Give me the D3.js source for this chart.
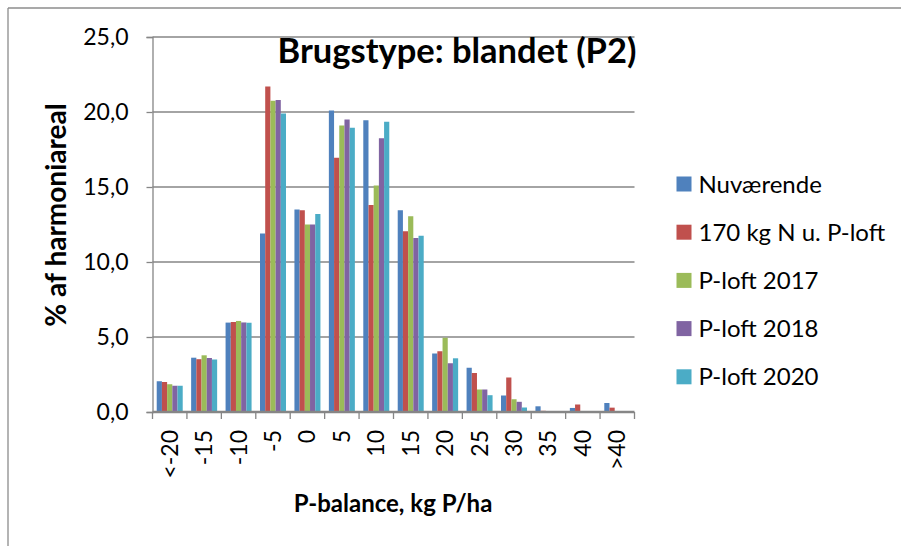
<!DOCTYPE html>
<html>
<head>
<meta charset="utf-8">
<script src="https://cdn.jsdelivr.net/npm/d3@7"></script>
<style>
  body { margin: 0; background: #fff; }
  svg text { font-family: Lato, "Open Sans", sans-serif; fill: #000; }
</style>
</head>
<body>
<div id="chart"></div>
<script>
var categories = ["<-20", "-15", "-10", "-5", "0", "5", "10", "15", "20", "25", "30", "35", "40", ">40"];
var seriesNames = ["Nuværende", "170 kg N u. P-loft", "P-loft 2017", "P-loft 2018", "P-loft 2020"];
var seriesColors = ["#4F81BD", "#C0504D", "#9BBB59", "#8064A2", "#4BACC6"];

var nuvaerende = [2.05, 3.62, 5.96, 11.9, 13.5, 20.1, 19.45, 13.45, 3.9, 2.95, 1.1, 0.38, 0.27, 0.6];
var n170 = [2.0, 3.52, 6.0, 21.7, 13.45, 16.95, 13.8, 12.05, 4.05, 2.6, 2.3, 0.08, 0.5, 0.29];
var ploft2017 = [1.85, 3.78, 6.07, 20.75, 12.5, 19.1, 15.1, 13.05, 4.95, 1.5, 0.85, 0.05, 0, 0];
var ploft2018 = [1.75, 3.6, 5.97, 20.8, 12.5, 19.5, 18.25, 11.6, 3.25, 1.5, 0.68, 0.05, 0, 0];
var ploft2020 = [1.75, 3.5, 5.95, 19.9, 13.2, 18.95, 19.35, 11.75, 3.58, 1.12, 0.3, 0.05, 0, 0];

var yTicks = [0, 5, 10, 15, 20, 25];

var allSeries = [nuvaerende, n170, ploft2017, ploft2018, ploft2020];

var width = 901, height = 546;
var margin = {left: 152.5, right: 266.5, top: 37, bottom: 134};

var svg = d3.select("#chart").append("svg")
    .attr("width", width)
    .attr("height", height);

// chart border (only top/left visible in the crop)
svg.append("line").attr("x1", 8).attr("y1", 8).attr("x2", width).attr("y2", 8)
    .attr("stroke", "#8c8c8c").attr("stroke-width", 1.3);
svg.append("line").attr("x1", 8).attr("y1", 8).attr("x2", 8).attr("y2", height)
    .attr("stroke", "#8c8c8c").attr("stroke-width", 1.3);

var x = d3.scaleBand()
    .domain(categories)
    .range([margin.left, width - margin.right])
    .paddingInner(0.245)
    .paddingOuter(0.1225);

var xs = d3.scaleBand()
    .domain(d3.range(seriesNames.length))
    .range([0, x.bandwidth()]);

var y = d3.scaleLinear()
    .domain([0, 25])
    .range([height - margin.bottom, margin.top]);

var x0 = margin.left, x1 = width - margin.right;
var step = (x1 - x0) / categories.length;

// gridlines
svg.append("g").selectAll("line")
    .data(yTicks.slice(1))
    .enter().append("line")
    .attr("x1", x0).attr("x2", x1)
    .attr("y1", function(d) { return y(d); })
    .attr("y2", function(d) { return y(d); })
    .attr("stroke", "#868686")
    .attr("stroke-width", 1.3);

// bars
var groups = svg.append("g").selectAll("g")
    .data(categories)
    .enter().append("g")
    .attr("transform", function(d) { return "translate(" + x(d) + ",0)"; });

groups.selectAll("rect")
    .data(function(d, i) { return allSeries.map(function(s, j) { return {v: s[i], j: j}; }); })
    .enter().append("rect")
    .attr("x", function(d) { return xs(d.j); })
    .attr("width", xs.bandwidth())
    .attr("y", function(d) { return y(d.v); })
    .attr("height", function(d) { return y(0) - y(d.v); })
    .attr("fill", function(d) { return seriesColors[d.j]; });

// y axis
var yAxis = svg.append("g")
    .attr("transform", "translate(" + x0 + ",0)")
    .call(d3.axisLeft(y).tickValues(yTicks).tickSize(6).tickPadding(18)
        .tickFormat(function(d) { return d3.format(".1f")(d).replace(".", ","); }));
yAxis.select(".domain").attr("stroke", "#868686").attr("stroke-width", 1.3);
yAxis.selectAll(".tick line").attr("stroke", "#868686").attr("stroke-width", 1.3);
yAxis.selectAll("text").style("font-size", "23px").attr("font-family", "Lato");

// x axis
var xg = svg.append("g").attr("transform", "translate(0," + y(0) + ")");
xg.append("line").attr("x1", x0).attr("x2", x1).attr("y1", 0).attr("y2", 0)
    .attr("stroke", "#868686").attr("stroke-width", 2.5);
xg.selectAll(".tk")
    .data(d3.range(categories.length + 1))
    .enter().append("line")
    .attr("x1", function(i) { return x0 + i * step; })
    .attr("x2", function(i) { return x0 + i * step; })
    .attr("y1", 0).attr("y2", 7)
    .attr("stroke", "#868686").attr("stroke-width", 1.3);
xg.selectAll(".lbl")
    .data(categories)
    .enter().append("text")
    .attr("transform", function(d) {
        return "translate(" + (x(d) + x.bandwidth() / 2 + 8) + ",18) rotate(-90)";
    })
    .attr("text-anchor", "end")
    .style("font-size", "23px")
    .text(function(d) { return d; });

// titles
svg.append("text")
    .attr("x", 457).attr("y", 63)
    .attr("text-anchor", "middle")
    .style("font-size", "34.5px").style("font-weight", "bold")
    .text("Brugstype: blandet (P2)");

svg.append("text")
    .attr("x", 393).attr("y", 512)
    .attr("text-anchor", "middle")
    .style("font-size", "24px").style("font-weight", "bold")
    .text("P-balance, kg P/ha");

svg.append("text")
    .attr("transform", "translate(66,215) rotate(-90)")
    .attr("text-anchor", "middle")
    .style("font-size", "28px").style("font-weight", "bold")
    .text("% af harmoniareal");

// legend
var legend = svg.append("g").attr("transform", "translate(676.5,184)");
var items = legend.selectAll("g")
    .data(seriesNames)
    .enter().append("g")
    .attr("transform", function(d, i) { return "translate(0," + i * 48.2 + ")"; });
items.append("rect")
    .attr("x", 0).attr("y", -7.5)
    .attr("width", 15).attr("height", 15)
    .attr("fill", function(d, i) { return seriesColors[i]; });
items.append("text")
    .attr("x", 22).attr("y", 8.5)
    .style("font-size", "24px")
    .text(function(d) { return d; });
</script>
</body>
</html>
